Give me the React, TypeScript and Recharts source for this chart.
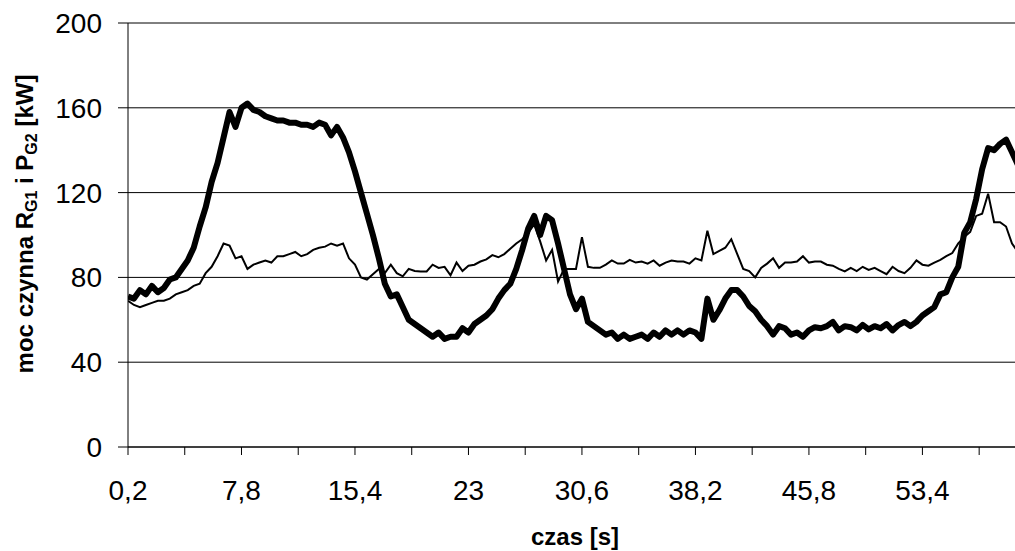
import { LineChart, Line, XAxis, YAxis, CartesianGrid } from 'recharts'

// sampled every 0.4 s, starting at 0.2 s
const TIME_STEP = 0.4

// thick line
const P_G1 = [
  71, 70, 74, 72, 76, 73, 75, 79, 80, 84,
  88, 94, 104, 113, 125, 134, 146, 158, 151, 160,
  162, 159, 158, 156, 155, 154, 154, 153, 153, 152,
  152, 151, 153, 152, 147, 151, 146, 139, 130, 120,
  110, 100, 89, 77, 71, 72, 66, 60, 58, 56,
  54, 52, 54, 51, 52, 52, 56, 54, 58, 60,
  62, 65, 70, 74, 77, 84, 93, 103, 109, 100,
  109, 107, 96, 84, 72, 65, 70, 59, 57, 55,
  53, 54, 51, 53, 51, 52, 53, 51, 54, 52,
  55, 53, 55, 53, 55, 54, 51, 70, 60, 64.5,
  70, 74, 74, 71, 66.5, 64, 60, 57, 53, 57,
  56, 53, 54, 52, 55, 56.5, 56, 57, 59, 55,
  57, 56.5, 55, 57.6, 55.5, 57, 56, 58, 55, 57.5,
  59, 57, 59, 62, 64, 66, 72, 73, 80, 85,
  101, 106, 117, 131, 141, 140, 143, 145, 139, 133,
]

// thin line
const P_G2 = [
  69, 67, 66, 67, 68, 69, 69, 70, 72, 73,
  74, 76, 77, 82, 85, 90, 96, 95, 89, 90,
  84, 86, 87, 88, 87, 90, 90, 91, 92, 90,
  91, 93, 94, 94.5, 96, 95, 96, 89, 86, 80,
  79, 81.5, 84, 82, 86, 82, 80.5, 84, 83, 82.8,
  82.8, 86, 84.5, 85, 81, 87, 83, 85.5, 86, 87.5,
  88.5, 90.5, 89.5, 91, 93.5, 96, 98, 101, 105, 97,
  88, 93, 78, 84, 84, 84, 99, 85, 84.5, 84.5,
  86, 88, 86.5, 86.5, 88.3, 87, 87.5, 86.5, 88, 85.5,
  87, 88, 87.5, 87.5, 86.5, 89, 88, 102, 91, 92.5,
  94, 98, 91, 84, 83, 80, 84.5, 86.5, 89, 84.5,
  87, 87, 87.5, 90, 87, 87.5, 87.5, 86, 85.5, 84,
  82.8, 84.5, 83, 85, 83.5, 84.5, 83, 81.5, 85, 83,
  82, 84.5, 88, 86, 85.5, 87, 88.3, 90, 91.5, 96,
  99, 101.5, 109, 110, 119.5, 106, 106, 104, 96, 92,
]

const X_TICKS = [0.2, 4, 7.8, 11.6, 15.4, 19.2, 23, 26.8, 30.6, 34.4, 38.2, 42, 45.8, 49.6, 53.4, 57.2]
const X_TICK_LABELS = ['0,2', '', '7,8', '', '15,4', '', '23', '', '30,6', '', '38,2', '', '45,8', '', '53,4', '']
const Y_TICKS = [0, 40, 80, 120, 160, 200]

const data = P_G1.map((g1, i) => ({
  t: Math.round((0.2 + i * TIME_STEP) * 10) / 10,
  g1,
  g2: P_G2[i],
}))

const font = '"Liberation Sans", Arial, sans-serif'

const XTitle = () => (
  <text x={575} y={545} textAnchor="middle" fontFamily={font} fontSize={24} fontWeight="bold" fill="#000">
    czas [s]
  </text>
)

const YTitle = () => (
  <text
    x={33}
    y={224}
    transform="rotate(-90 33 224)"
    textAnchor="middle"
    fontFamily={font}
    fontSize={24}
    fontWeight="bold"
    fill="#000"
  >
    moc czynna R<tspan fontSize={16} dy={4}>G1</tspan>
    <tspan dy={-4}> i P</tspan>
    <tspan fontSize={16} dy={4}>G2</tspan>
    <tspan dy={-4}> [kW]</tspan>
  </text>
)

export default function App() {
  return (
    <div style={{ position: 'absolute', left: 0, top: 0, width: 1015, height: 551, background: '#fff' }}>
      <LineChart width={1015} height={551} data={data} margin={{ top: 23, right: 0, bottom: 0, left: 0 }}>
        <CartesianGrid vertical={false} stroke="#000" strokeWidth={1} />
        <XAxis
          type="number"
          dataKey="t"
          domain={[0.2, 59.6]}
          allowDataOverflow
          ticks={X_TICKS}
          interval={0}
          height={104}
          tickSize={8}
          tickMargin={25}
          tickFormatter={(v) => X_TICK_LABELS[X_TICKS.indexOf(v)] ?? ''}
          tick={{ fill: '#000', fontSize: 28, fontFamily: font }}
          axisLine={{ stroke: '#000' }}
          tickLine={{ stroke: '#000' }}
          label={<XTitle />}
        />
        <YAxis
          domain={[0, 200]}
          ticks={Y_TICKS}
          interval={0}
          width={128}
          tickSize={10}
          tickMargin={16}
          tick={{ fill: '#000', fontSize: 28, fontFamily: font }}
          axisLine={{ stroke: '#000' }}
          tickLine={{ stroke: '#000' }}
          label={<YTitle />}
        />
        <Line
          type="linear"
          dataKey="g2"
          stroke="#000"
          strokeWidth={2}
          dot={false}
          activeDot={false}
          isAnimationActive={false}
        />
        <Line
          type="linear"
          dataKey="g1"
          stroke="#000"
          strokeWidth={6}
          strokeLinejoin="round"
          dot={false}
          activeDot={false}
          isAnimationActive={false}
        />
      </LineChart>
    </div>
  )
}
